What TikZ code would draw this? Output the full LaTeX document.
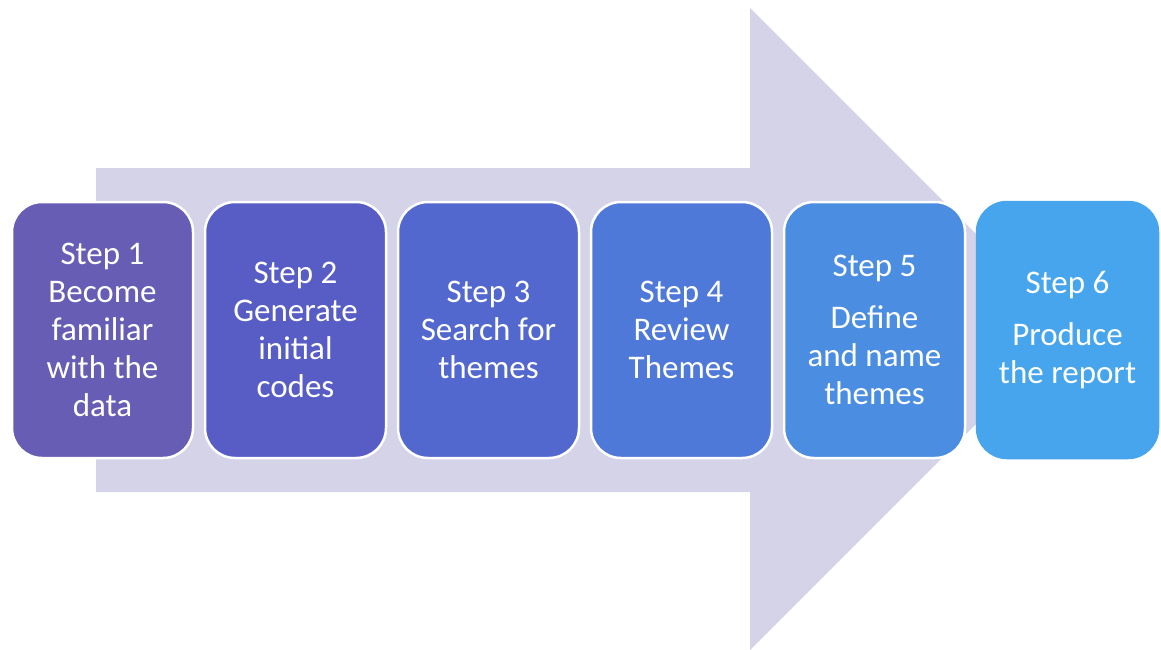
\documentclass[tikz,border=0pt]{standalone}
\usepackage{fontspec}
\setmainfont{Carlito}
\usetikzlibrary{positioning}

\definecolor{arrowgray}{HTML}{D4D3E8}
\definecolor{stepone}{HTML}{675DB5}
\definecolor{steptwo}{HTML}{575DC4}
\definecolor{stepthree}{HTML}{5368CE}
\definecolor{stepfour}{HTML}{4F79D9}
\definecolor{stepfive}{HTML}{4A8DE1}
\definecolor{stepsix}{HTML}{46A5EC}

\begin{document}
\begin{tikzpicture}[x=1pt, y=-1pt,
    stepbox/.style={draw=white, line width=2.5pt, rounded corners=30pt,
        minimum width=181pt, minimum height=256pt, align=center,
        text=white, font=\fontsize{33}{37.8}\selectfont},
    node distance=9.5pt]
    \useasboundingbox (0, 0) rectangle (1161, 650);

    % Big background arrow
    \fill[arrowgray] (96, 168) -- (750, 168) -- (750, 8) -- (1071, 329)
        -- (750, 650) -- (750, 492) -- (96, 492) -- cycle;

    % Steps
    \node[stepbox, fill=stepone] (step1) at (102.5, 330)
        {Step 1\\Become\\familiar\\with the\\data};
    \node[stepbox, fill=steptwo, right=of step1] (step2)
        {Step 2\\Generate\\initial\\codes};
    \node[stepbox, fill=stepthree, right=of step2] (step3)
        {Step 3\\Search for\\themes};
    \node[stepbox, fill=stepfour, right=of step3] (step4)
        {Step 4\\Review\\Themes};
    \node[stepbox, fill=stepfive, right=of step4] (step5)
        {Step 5\\[14pt]Define\\and name\\themes};
    \node[stepbox, fill=stepsix, draw=stepsix, right=of step5] (step6)
        {Step 6\\[14pt]Produce\\the report};
\end{tikzpicture}
\end{document}
